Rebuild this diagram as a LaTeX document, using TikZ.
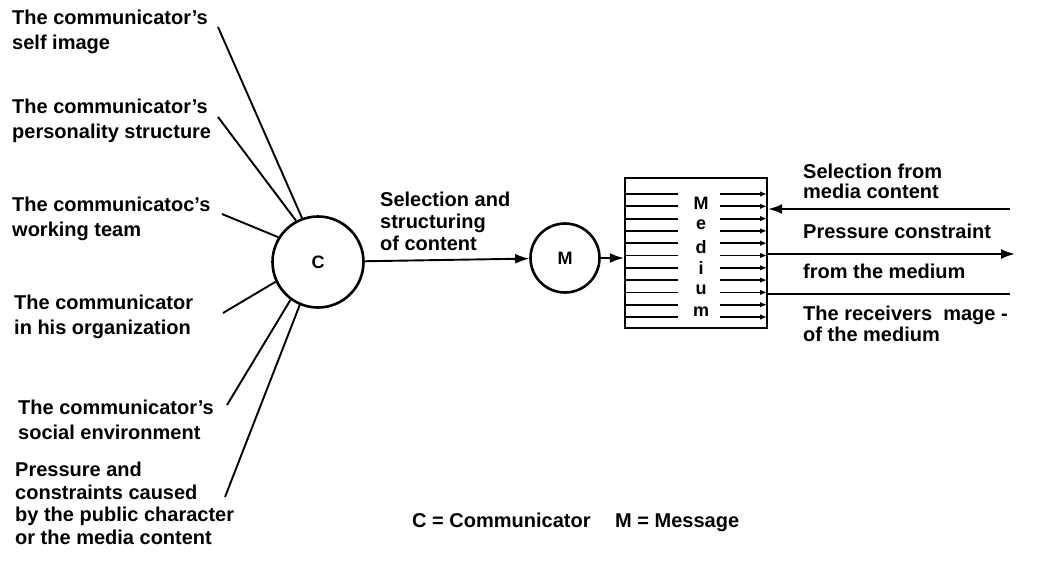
\documentclass[tikz,border=0pt]{standalone}
\usepackage{fontspec}
\setmainfont{Liberation Sans}
\usetikzlibrary{arrows.meta,calc}
\begin{document}
\begin{tikzpicture}[x=1pt,y=-1pt,
  lbl/.style={font=\bfseries\fontsize{20}{24.5}\selectfont, align=left, anchor=north west, inner sep=0pt},
  conn/.style={line width=1.9pt},
  arr/.style={conn,-{Latex[length=14pt,width=10pt]}},
  small/.style={line width=1.8pt},
  smallarr/.style={small,-{Latex[length=7pt,width=5.5pt]}},
  circ/.style={circle, draw, line width=2.6pt, inner sep=0pt, font=\bfseries\fontsize{18}{20}\selectfont},
  letter/.style={inner sep=0pt, font=\bfseries\fontsize{18}{20}\selectfont}
]
\useasboundingbox (0,0) rectangle (1037,563);

% circles and box
\node[circ, minimum size=91pt] (C) at (318,262) {C};
\node[circ, minimum size=69pt] (M) at (565,258) {M};
\node[draw, line width=2.4pt, minimum width=142pt, minimum height=150pt, inner sep=0pt] (med) at (696,253) {};

% left labels
\node[lbl] (l1) at (12,10) {The communicator's\\self image};
\node[lbl] (l2) at (12,99) {The communicator's\\personality structure};
\node[lbl] (l3) at (12,197) {The communicatoc's\\working team};
\node[lbl] (l4) at (14,295) {The communicator\\in his organization};
\node[lbl] (l5) at (18,400) {The communicator's\\social environment};
\node[lbl, font=\bfseries\fontsize{20}{22.5}\selectfont] (l6) at (15,462) {Pressure and\\constraints caused\\by the public character\\or the media content};

\coordinate (s1) at (218,27);
\coordinate (s2) at (218,117);
\coordinate (s3) at (222,214);
\coordinate (s4) at (223,313);
\coordinate (s5) at (227,405);
\coordinate (s6) at (225,497);
\draw[conn] (s1) -- (C.110);
\draw[conn] (s2) -- (C.118);
\draw[conn] (s3) -- (C.148);
\draw[conn] (s4) -- (C.205);
\draw[conn] (s5) -- (C.234);
\draw[conn] (s6) -- (C.247);

% middle
\node[lbl, font=\bfseries\fontsize{20}{22}\selectfont] (sel) at (380,192) {Selection and\\structuring\\of content};
\draw[arr] (C) -- (M);
\draw[arr] (M) -- (M -| med.west);

% medium interior
\foreach \yy in {194,206.3,218.6,230.9,243.2,255.5,267.8,280.1,292.4,304.7,317} {
  \draw[small] (626,\yy) -- (678,\yy);
  \draw[smallarr] (720,\yy) -- (767,\yy);
}
\node[letter] (m1) at (701,203) {M};
\node[letter] (m2) at (701,225) {e};
\node[letter] (m3) at (701,247) {d};
\node[letter] (m4) at (701,268) {i};
\node[letter] (m5) at (701,290) {u};
\node[letter] (m6) at (701,312) {m};

% right side
\coordinate (a1) at (1010,209);
\coordinate (b1) at (1015,254);
\coordinate (c1) at (1010,294);
\draw[arr] (a1) -- (a1 -| med.east);
\draw[arr] (med.east |- b1) -- (b1);
\draw[conn] (med.east |- c1) -- (c1);
\node[lbl, font=\bfseries\fontsize{20}{20}\selectfont] (r1) at (803,164) {Selection from\\media content};
\node[lbl] (r2) at (803,224) {Pressure constraint};
\node[lbl] (r3) at (803,264) {from the medium};
\node[lbl, font=\bfseries\fontsize{20}{21}\selectfont] (r4) at (803,306) {The receivers\ \ mage -\\of the medium};

% legend
\node[lbl, anchor=base west] (leg1) at (412,527) {C = Communicator};
\node[lbl, anchor=base west] (leg2) at (615,527) {M = Message};
\end{tikzpicture}
\end{document}
